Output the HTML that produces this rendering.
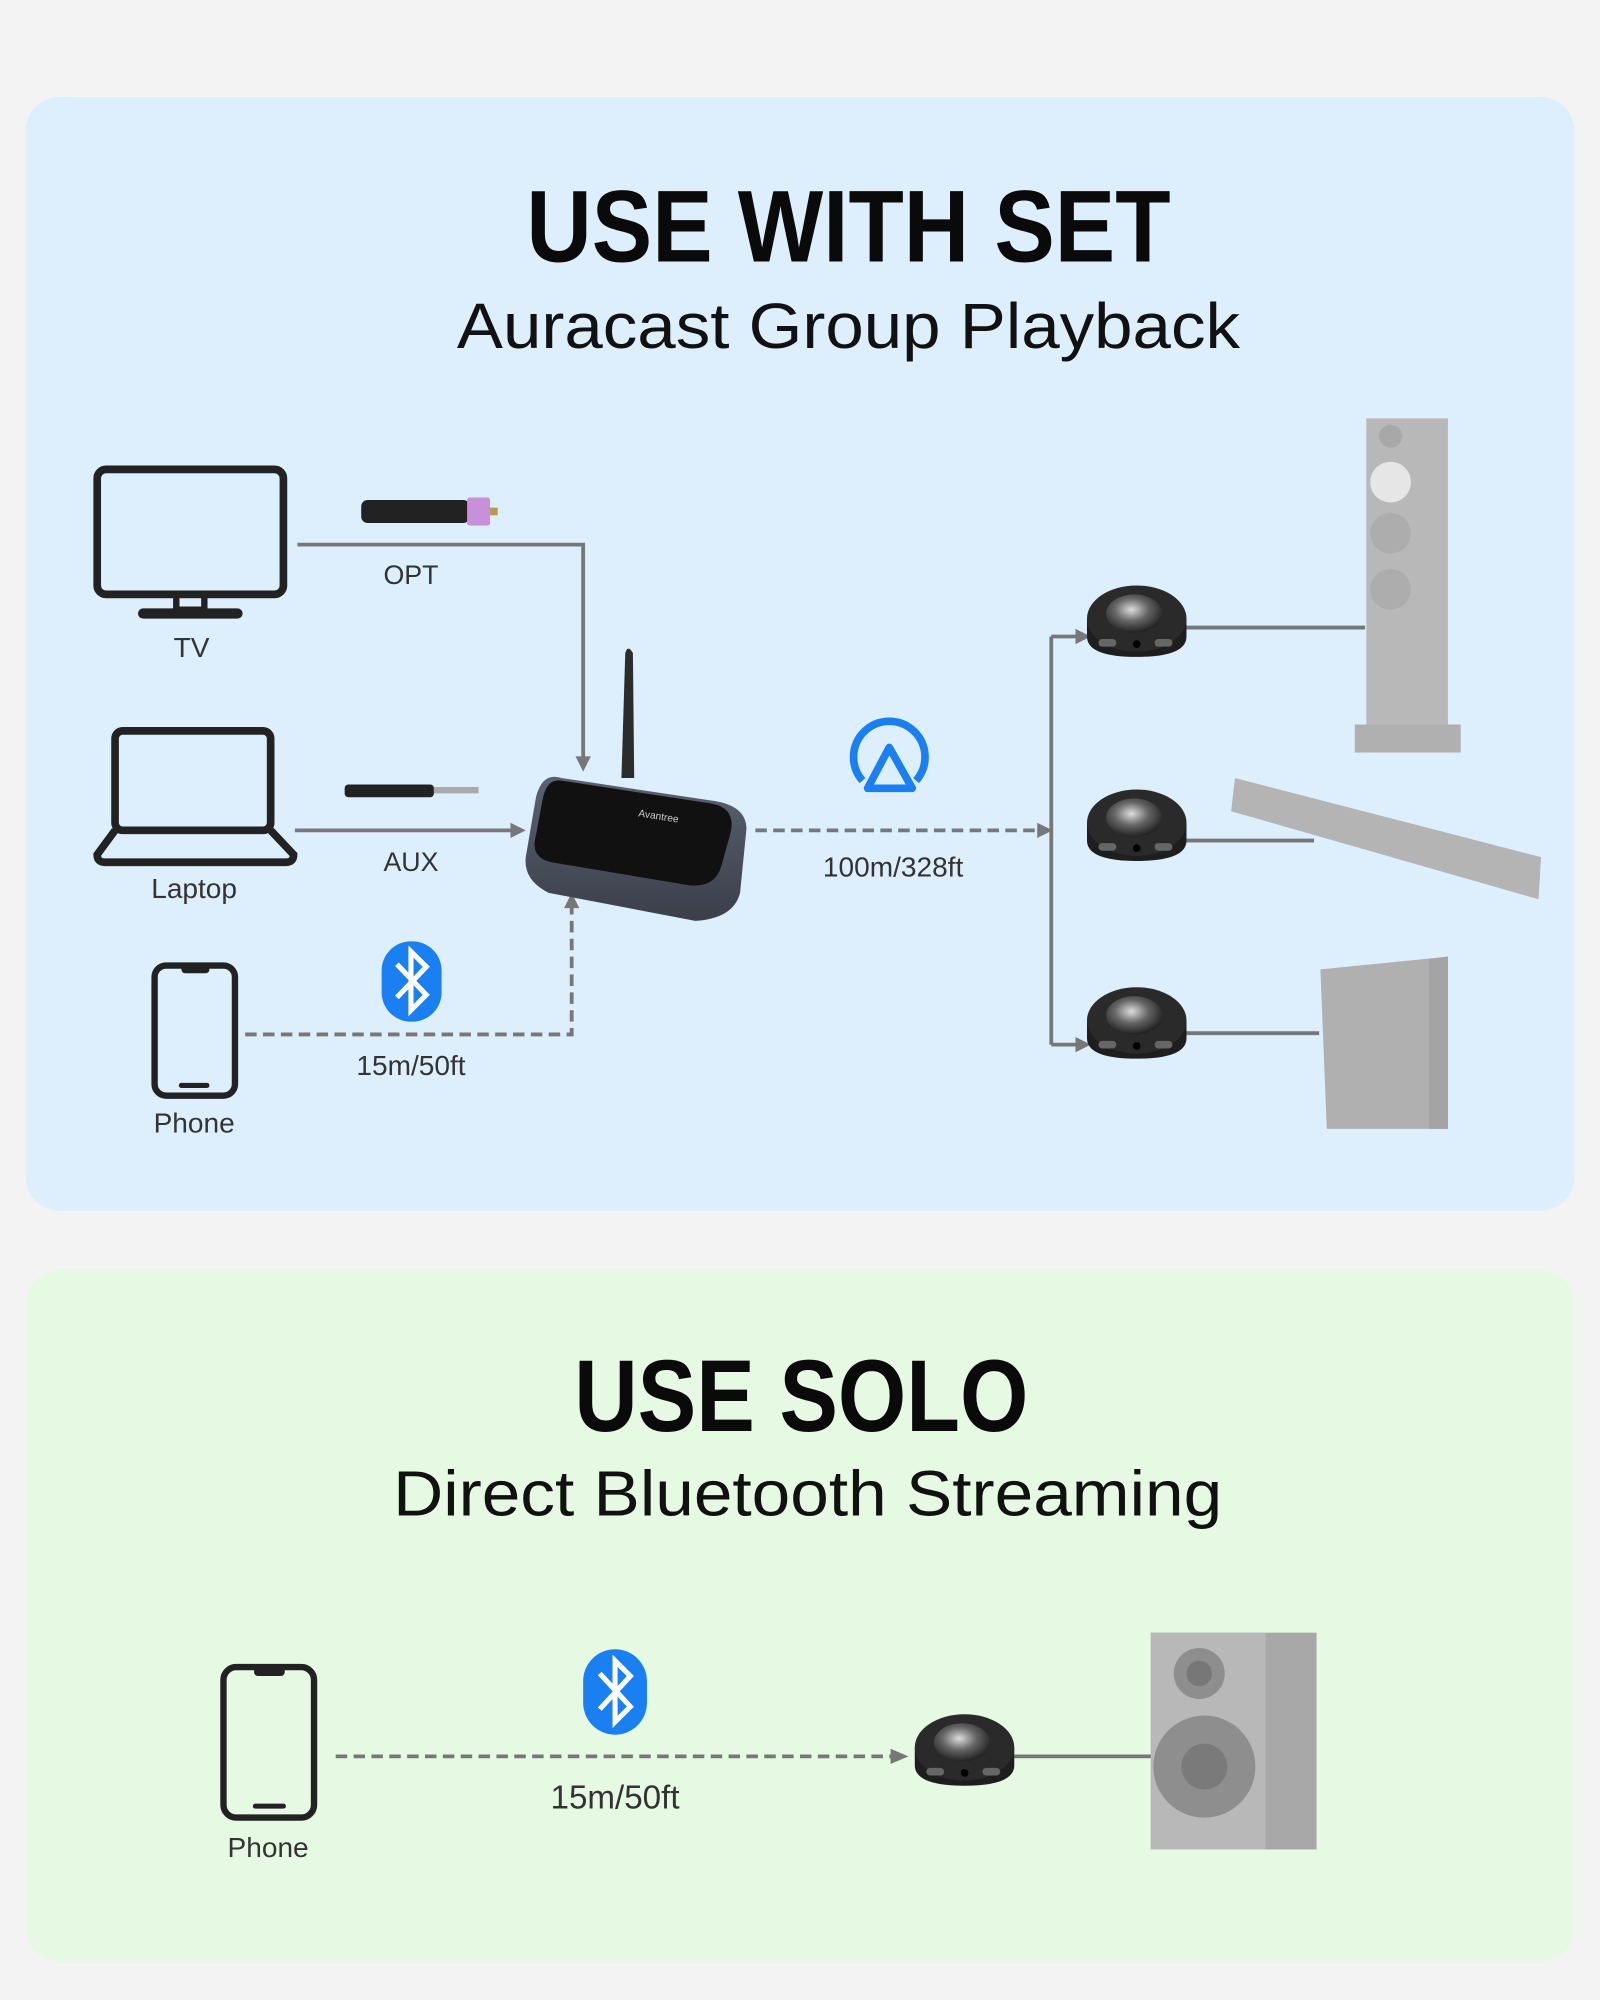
<!DOCTYPE html>
<html><head><meta charset="utf-8"><style>html,body{margin:0;padding:0;background:#f3f3f3}svg{display:block}</style></head>
<body>
<svg width="1600" height="2000" viewBox="0 0 1254 1568" xmlns="http://www.w3.org/2000/svg" font-family="Liberation Sans, sans-serif">
<defs>
<radialGradient id="metal" cx="0.45" cy="0.4" r="0.6"><stop offset="0" stop-color="#ddd"/><stop offset="0.5" stop-color="#666"/><stop offset="1" stop-color="#222"/></radialGradient>
<linearGradient id="rcv" x1="0" y1="0" x2="0" y2="1"><stop offset="0" stop-color="#5a6170"/><stop offset="1" stop-color="#3a3f4a"/></linearGradient>
<g id="puck">
<path d="M-39 0 L-39 14 Q-39 30 0 30 Q39 30 39 14 L39 0 Z" fill="#1e1e1e"/>
<ellipse cx="0" cy="0" rx="39" ry="26" fill="#2a2a2a"/>
<ellipse cx="-2" cy="-4" rx="22" ry="15" fill="url(#metal)"/>
<rect x="-30" y="16" width="14" height="6" rx="3" fill="#666"/>
<circle cx="0" cy="20" r="3" fill="#000"/>
<rect x="14" y="16" width="14" height="6" rx="3" fill="#666"/>
</g>
</defs>
<rect width="1254" height="1568" fill="#f3f3f3"/>
<rect x="20" y="76" width="1214" height="873" rx="26" fill="#ddeefc"/>
<rect x="20" y="996" width="1214" height="542" rx="26" fill="#e6fae3"/>

<text x="665" y="205" text-anchor="middle" font-weight="bold" font-size="80" fill="#0a0a0a" textLength="505" lengthAdjust="spacingAndGlyphs">USE WITH SET</text>
<text x="665" y="273" text-anchor="middle" font-size="50" fill="#111" textLength="614" lengthAdjust="spacingAndGlyphs">Auracast Group Playback</text>

<!-- TV -->
<rect x="76" y="368" width="146" height="98" rx="7" fill="none" stroke="#222" stroke-width="6"/>
<rect x="138" y="466" width="22" height="12" fill="none" stroke="#222" stroke-width="5"/>
<rect x="108" y="477" width="82" height="8" rx="4" fill="#222"/>
<text x="150" y="515" text-anchor="middle" font-size="22" fill="#333">TV</text>
<!-- Laptop -->
<rect x="90" y="573" width="122" height="78" rx="6" fill="none" stroke="#222" stroke-width="6"/>
<path d="M90 651 L76 670 Q76 676 82 676 L224 676 Q230 676 230 670 L212 651" fill="none" stroke="#222" stroke-width="6"/>
<text x="152" y="704" text-anchor="middle" font-size="22" fill="#333">Laptop</text>
<!-- Phone -->
<rect x="121" y="757" width="63" height="102" rx="9" fill="none" stroke="#222" stroke-width="5"/>
<rect x="142" y="757" width="22" height="6" rx="3" fill="#222"/>
<rect x="140" y="849" width="24" height="4" rx="2" fill="#222"/>
<text x="152" y="888" text-anchor="middle" font-size="22" fill="#333">Phone</text>

<!-- connectors -->
<g stroke="#777" stroke-width="3" fill="none">
<path d="M233 427 L457 427 L457 595"/>
<path d="M231 651 L402 651"/>
<path d="M192 811 L448 811 L448 710" stroke-dasharray="9 5"/>
<path d="M592 651 L815 651" stroke-dasharray="9 5"/>
<path d="M824 499 L824 819"/>
<path d="M824 499 L845 499 M824 819 L845 819"/>
<path d="M930 492 L1070 492 M930 659 L1030 659 M930 810 L1034 810"/>
<path d="M263 1377 L700 1377" stroke-dasharray="9 5"/>
<path d="M795 1377 L905 1377"/>
</g>
<g fill="#777">
<path d="M451 593 L463 593 L457 605Z"/>
<path d="M400 645 L412 651 L400 657Z"/>
<path d="M442 712 L454 712 L448 700Z"/>
<path d="M813 645 L825 651 L813 657Z"/>
<path d="M843 493 L855 499 L843 505Z"/>
<path d="M843 813 L855 819 L843 825Z"/>
<path d="M698 1371 L712 1377 L698 1383Z"/>
</g>
<!-- OPT cable -->
<rect x="283" y="392" width="85" height="18" rx="5" fill="#222"/>
<rect x="366" y="390" width="18" height="22" rx="2" fill="#c890d8"/>
<rect x="384" y="398" width="6" height="6" fill="#b89a50"/>
<text x="322" y="458" text-anchor="middle" font-size="21" fill="#333">OPT</text>
<!-- AUX cable -->
<rect x="270" y="615" width="70" height="10" rx="3" fill="#222"/>
<rect x="340" y="617" width="35" height="5" fill="#aaa"/>
<text x="322" y="683" text-anchor="middle" font-size="21" fill="#333">AUX</text>
<!-- Bluetooth -->
<rect x="299" y="738" width="47" height="63" rx="23" fill="#1a7ff0"/>
<path d="M311 756 L334 780 L322 792 L322 746 L334 758 L311 782" fill="none" stroke="#fff" stroke-width="4"/>
<text x="322" y="843" text-anchor="middle" font-size="22" fill="#333">15m/50ft</text>

<!-- receiver -->
<path d="M487 610 L490 512 Q492 505 496 512 L497 610Z" fill="#2c2c2c"/>
<path d="M440 610 L560 628 Q585 632 585 650 L580 700 Q575 720 545 722 L430 700 Q410 690 412 672 L420 625 Q425 605 440 610Z" fill="url(#rcv)"/>
<path d="M440 612 L558 630 Q578 634 572 655 L565 680 Q560 696 540 694 L432 676 Q415 672 420 655 L425 628 Q428 610 440 612Z" fill="#111"/>
<text x="500" y="640" font-size="8" fill="#ccc" transform="rotate(9 500 640)">Avantree</text>

<!-- auracast icon -->
<path d="M676 612 A28 28 0 1 1 718 612" fill="none" stroke="#1a7ff0" stroke-width="6"/>
<path d="M697 586 L715 618 L680 618 Z" fill="none" stroke="#1a7ff0" stroke-width="6" stroke-linejoin="round"/>
<text x="700" y="687" text-anchor="middle" font-size="22" fill="#333">100m/328ft</text>

<!-- speakers -->
<rect x="1071" y="328" width="64" height="240" fill="#b8b8b8"/>
<rect x="1062" y="568" width="83" height="22" fill="#b0b0b0"/>
<circle cx="1090" cy="342" r="9" fill="#a8a8a8"/>
<circle cx="1090" cy="378" r="16" fill="#e6e6e6"/>
<circle cx="1090" cy="418" r="16" fill="#adadad"/>
<circle cx="1090" cy="462" r="16" fill="#adadad"/>
<path d="M968 610 L1208 672 L1206 705 L965 636Z" fill="#b4b4b4"/>
<path d="M1035 760 L1135 750 L1135 885 L1040 885Z" fill="#b0b0b0"/>
<path d="M1120 752 L1135 750 L1135 885 L1120 885Z" fill="#a4a4a4"/>

<use href="#puck" x="891" y="485"/>
<use href="#puck" x="891" y="645"/>
<use href="#puck" x="891" y="800"/>

<!-- SOLO -->
<text x="628" y="1122" text-anchor="middle" font-weight="bold" font-size="80" fill="#0a0a0a" textLength="356" lengthAdjust="spacingAndGlyphs">USE SOLO</text>
<text x="633" y="1188" text-anchor="middle" font-size="50" fill="#111" textLength="650" lengthAdjust="spacingAndGlyphs">Direct Bluetooth Streaming</text>

<rect x="175" y="1307" width="71" height="118" rx="10" fill="none" stroke="#222" stroke-width="5"/>
<rect x="199" y="1307" width="24" height="7" rx="3" fill="#222"/>
<rect x="198" y="1414" width="26" height="4" rx="2" fill="#222"/>
<text x="210" y="1456" text-anchor="middle" font-size="22" fill="#333">Phone</text>

<rect x="457" y="1293" width="50" height="67" rx="25" fill="#1a7ff0"/>
<path d="M470 1312 L494 1338 L482 1350 L482 1302 L494 1314 L470 1340" fill="none" stroke="#fff" stroke-width="4"/>
<text x="482" y="1418" text-anchor="middle" font-size="26" fill="#333">15m/50ft</text>

<use href="#puck" x="756" y="1370"/>

<rect x="902" y="1280" width="130" height="170" fill="#a8a8a8"/>
<rect x="902" y="1280" width="90" height="170" fill="#b8b8b8"/>
<circle cx="940" cy="1312" r="20" fill="#8e8e8e"/>
<circle cx="940" cy="1312" r="10" fill="#777"/>
<circle cx="944" cy="1385" r="40" fill="#8e8e8e"/>
<circle cx="944" cy="1385" r="18" fill="#7a7a7a"/>
</svg>
</body></html>
